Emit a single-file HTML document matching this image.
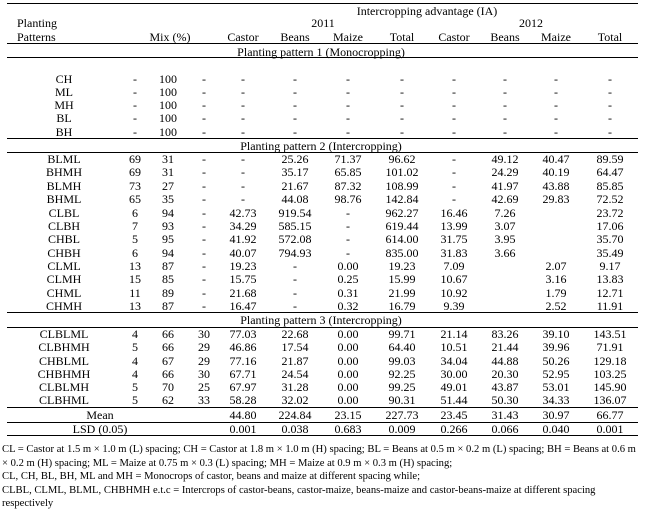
<!DOCTYPE html>
<html><head><meta charset="utf-8"><style>
body{margin:0;background:#fff;}
#w{position:relative;width:645px;height:511px;overflow:hidden;font-family:"Liberation Serif",serif;font-size:12px;color:#000;}
.r{position:absolute;left:0;width:645px;height:14px;line-height:14px;}
.r span{position:absolute;top:0;transform:translateX(-50%);white-space:nowrap;}
.hl{position:absolute;left:7px;width:631px;height:1px;background:#000;}
.c0{left:64px}.c1{left:135px}.c2{left:168px}.c3{left:204px}.c4{left:243px}.c5{left:295px}.c6{left:348px}.c7{left:402px}.c8{left:454px}.c9{left:505px}.c10{left:556px}.c11{left:610px}
.t{position:absolute;left:17px;line-height:14px;}
.pt{position:absolute;left:321px;transform:translateX(-50%);white-space:nowrap;line-height:14px;}
.fn{position:absolute;left:2px;font-size:10.6px;line-height:13px;white-space:nowrap;}
</style></head><body><div id="w">
<div class="hl" style="top:3px"></div>
<div class="r" style="top:4px"><span style="left:427px">Intercropping advantage (IA)</span></div>
<div class="t" style="top:16px">Planting</div>
<div class="r" style="top:16px"><span style="left:323px">2011</span><span style="left:531px">2012</span></div>
<div class="t" style="top:30px">Patterns</div>
<div class="r" style="top:30px"><span style="left:170px">Mix (%)</span><span class="c4">Castor</span><span class="c5">Beans</span><span class="c6">Maize</span><span class="c7">Total</span><span class="c8">Castor</span><span class="c9">Beans</span><span class="c10">Maize</span><span class="c11">Total</span></div>
<div class="hl" style="top:43px"></div>
<div class="pt" style="top:45px">Planting pattern 1 (Monocropping)</div>
<div class="hl" style="top:57px"></div>

<div class="r" style="top:72px"><span class="c0">CH</span><span class="c1">-</span><span class="c2">100</span><span class="c3">-</span><span class="c4">-</span><span class="c5">-</span><span class="c6">-</span><span class="c7">-</span><span class="c8">-</span><span class="c9">-</span><span class="c10">-</span><span class="c11">-</span></div>
<div class="r" style="top:85px"><span class="c0">ML</span><span class="c1">-</span><span class="c2">100</span><span class="c3">-</span><span class="c4">-</span><span class="c5">-</span><span class="c6">-</span><span class="c7">-</span><span class="c8">-</span><span class="c9">-</span><span class="c10">-</span><span class="c11">-</span></div>
<div class="r" style="top:98px"><span class="c0">MH</span><span class="c1">-</span><span class="c2">100</span><span class="c3">-</span><span class="c4">-</span><span class="c5">-</span><span class="c6">-</span><span class="c7">-</span><span class="c8">-</span><span class="c9">-</span><span class="c10">-</span><span class="c11">-</span></div>
<div class="r" style="top:111px"><span class="c0">BL</span><span class="c1">-</span><span class="c2">100</span><span class="c3">-</span><span class="c4">-</span><span class="c5">-</span><span class="c6">-</span><span class="c7">-</span><span class="c8">-</span><span class="c9">-</span><span class="c10">-</span><span class="c11">-</span></div>
<div class="r" style="top:125px"><span class="c0">BH</span><span class="c1">-</span><span class="c2">100</span><span class="c3">-</span><span class="c4">-</span><span class="c5">-</span><span class="c6">-</span><span class="c7">-</span><span class="c8">-</span><span class="c9">-</span><span class="c10">-</span><span class="c11">-</span></div>
<div class="hl" style="top:138px"></div>
<div class="pt" style="top:139px">Planting pattern 2 (Intercropping)</div>
<div class="hl" style="top:152px"></div>

<div class="r" style="top:152px"><span class="c0">BLML</span><span class="c1">69</span><span class="c2">31</span><span class="c3">-</span><span class="c4">-</span><span class="c5">25.26</span><span class="c6">71.37</span><span class="c7">96.62</span><span class="c8">-</span><span class="c9">49.12</span><span class="c10">40.47</span><span class="c11">89.59</span></div>
<div class="r" style="top:165px"><span class="c0">BHMH</span><span class="c1">69</span><span class="c2">31</span><span class="c3">-</span><span class="c4">-</span><span class="c5">35.17</span><span class="c6">65.85</span><span class="c7">101.02</span><span class="c8">-</span><span class="c9">24.29</span><span class="c10">40.19</span><span class="c11">64.47</span></div>
<div class="r" style="top:179px"><span class="c0">BLMH</span><span class="c1">73</span><span class="c2">27</span><span class="c3">-</span><span class="c4">-</span><span class="c5">21.67</span><span class="c6">87.32</span><span class="c7">108.99</span><span class="c8">-</span><span class="c9">41.97</span><span class="c10">43.88</span><span class="c11">85.85</span></div>
<div class="r" style="top:192px"><span class="c0">BHML</span><span class="c1">65</span><span class="c2">35</span><span class="c3">-</span><span class="c4">-</span><span class="c5">44.08</span><span class="c6">98.76</span><span class="c7">142.84</span><span class="c8">-</span><span class="c9">42.69</span><span class="c10">29.83</span><span class="c11">72.52</span></div>
<div class="r" style="top:206px"><span class="c0">CLBL</span><span class="c1">6</span><span class="c2">94</span><span class="c3">-</span><span class="c4">42.73</span><span class="c5">919.54</span><span class="c6">-</span><span class="c7">962.27</span><span class="c8">16.46</span><span class="c9">7.26</span><span class="c11">23.72</span></div>
<div class="r" style="top:219px"><span class="c0">CLBH</span><span class="c1">7</span><span class="c2">93</span><span class="c3">-</span><span class="c4">34.29</span><span class="c5">585.15</span><span class="c6">-</span><span class="c7">619.44</span><span class="c8">13.99</span><span class="c9">3.07</span><span class="c11">17.06</span></div>
<div class="r" style="top:232px"><span class="c0">CHBL</span><span class="c1">5</span><span class="c2">95</span><span class="c3">-</span><span class="c4">41.92</span><span class="c5">572.08</span><span class="c6">-</span><span class="c7">614.00</span><span class="c8">31.75</span><span class="c9">3.95</span><span class="c11">35.70</span></div>
<div class="r" style="top:246px"><span class="c0">CHBH</span><span class="c1">6</span><span class="c2">94</span><span class="c3">-</span><span class="c4">40.07</span><span class="c5">794.93</span><span class="c6">-</span><span class="c7">835.00</span><span class="c8">31.83</span><span class="c9">3.66</span><span class="c11">35.49</span></div>
<div class="r" style="top:259px"><span class="c0">CLML</span><span class="c1">13</span><span class="c2">87</span><span class="c3">-</span><span class="c4">19.23</span><span class="c5">-</span><span class="c6">0.00</span><span class="c7">19.23</span><span class="c8">7.09</span><span class="c10">2.07</span><span class="c11">9.17</span></div>
<div class="r" style="top:272px"><span class="c0">CLMH</span><span class="c1">15</span><span class="c2">85</span><span class="c3">-</span><span class="c4">15.75</span><span class="c5">-</span><span class="c6">0.25</span><span class="c7">15.99</span><span class="c8">10.67</span><span class="c10">3.16</span><span class="c11">13.83</span></div>
<div class="r" style="top:286px"><span class="c0">CHML</span><span class="c1">11</span><span class="c2">89</span><span class="c3">-</span><span class="c4">21.68</span><span class="c5">-</span><span class="c6">0.31</span><span class="c7">21.99</span><span class="c8">10.92</span><span class="c10">1.79</span><span class="c11">12.71</span></div>
<div class="r" style="top:299px"><span class="c0">CHMH</span><span class="c1">13</span><span class="c2">87</span><span class="c3">-</span><span class="c4">16.47</span><span class="c5">-</span><span class="c6">0.32</span><span class="c7">16.79</span><span class="c8">9.39</span><span class="c10">2.52</span><span class="c11">11.91</span></div>
<div class="hl" style="top:312px"></div>
<div class="pt" style="top:313px">Planting pattern 3 (Intercropping)</div>
<div class="hl" style="top:327px"></div>

<div class="r" style="top:327px"><span class="c0">CLBLML</span><span class="c1">4</span><span class="c2">66</span><span class="c3">30</span><span class="c4">77.03</span><span class="c5">22.68</span><span class="c6">0.00</span><span class="c7">99.71</span><span class="c8">21.14</span><span class="c9">83.26</span><span class="c10">39.10</span><span class="c11">143.51</span></div>
<div class="r" style="top:340px"><span class="c0">CLBHMH</span><span class="c1">5</span><span class="c2">66</span><span class="c3">29</span><span class="c4">46.86</span><span class="c5">17.54</span><span class="c6">0.00</span><span class="c7">64.40</span><span class="c8">10.51</span><span class="c9">21.44</span><span class="c10">39.96</span><span class="c11">71.91</span></div>
<div class="r" style="top:354px"><span class="c0">CHBLML</span><span class="c1">4</span><span class="c2">67</span><span class="c3">29</span><span class="c4">77.16</span><span class="c5">21.87</span><span class="c6">0.00</span><span class="c7">99.03</span><span class="c8">34.04</span><span class="c9">44.88</span><span class="c10">50.26</span><span class="c11">129.18</span></div>
<div class="r" style="top:367px"><span class="c0">CHBHMH</span><span class="c1">4</span><span class="c2">66</span><span class="c3">30</span><span class="c4">67.71</span><span class="c5">24.54</span><span class="c6">0.00</span><span class="c7">92.25</span><span class="c8">30.00</span><span class="c9">20.30</span><span class="c10">52.95</span><span class="c11">103.25</span></div>
<div class="r" style="top:380px"><span class="c0">CLBLMH</span><span class="c1">5</span><span class="c2">70</span><span class="c3">25</span><span class="c4">67.97</span><span class="c5">31.28</span><span class="c6">0.00</span><span class="c7">99.25</span><span class="c8">49.01</span><span class="c9">43.87</span><span class="c10">53.01</span><span class="c11">145.90</span></div>
<div class="r" style="top:393px"><span class="c0">CLBHML</span><span class="c1">5</span><span class="c2">62</span><span class="c3">33</span><span class="c4">58.28</span><span class="c5">32.02</span><span class="c6">0.00</span><span class="c7">90.31</span><span class="c8">51.44</span><span class="c9">50.30</span><span class="c10">34.33</span><span class="c11">136.07</span></div>
<div class="hl" style="top:407px"></div>
<div class="r" style="top:408px"><span style="left:100px">Mean</span><span class="c4">44.80</span><span class="c5">224.84</span><span class="c6">23.15</span><span class="c7">227.73</span><span class="c8">23.45</span><span class="c9">31.43</span><span class="c10">30.97</span><span class="c11">66.77</span></div>
<div class="hl" style="top:422px"></div>
<div class="r" style="top:422px"><span style="left:100px">LSD (0.05)</span><span class="c4">0.001</span><span class="c5">0.038</span><span class="c6">0.683</span><span class="c7">0.009</span><span class="c8">0.266</span><span class="c9">0.066</span><span class="c10">0.040</span><span class="c11">0.001</span></div>
<div class="hl" style="top:435px"></div>

<div class="fn" style="top:443px">CL = Castor at 1.5 m × 1.0 m (L) spacing; CH = Castor at 1.8 m × 1.0 m (H) spacing; BL = Beans at 0.5 m × 0.2 m (L) spacing; BH = Beans at 0.6 m</div>
<div class="fn" style="top:456.5px">× 0.2 m (H) spacing; ML = Maize at 0.75 m × 0.3 (L) spacing; MH = Maize at 0.9 m × 0.3 m (H) spacing;</div>
<div class="fn" style="top:470px">CL, CH, BL, BH, ML and MH = Monocrops of castor, beans and maize at different spacing while;</div>
<div class="fn" style="top:483.5px">CLBL, CLML, BLML, CHBHMH e.t.c = Intercrops of castor-beans, castor-maize, beans-maize and castor-beans-maize at different spacing</div>
<div class="fn" style="top:497px">respectively</div>
</div></body></html>
